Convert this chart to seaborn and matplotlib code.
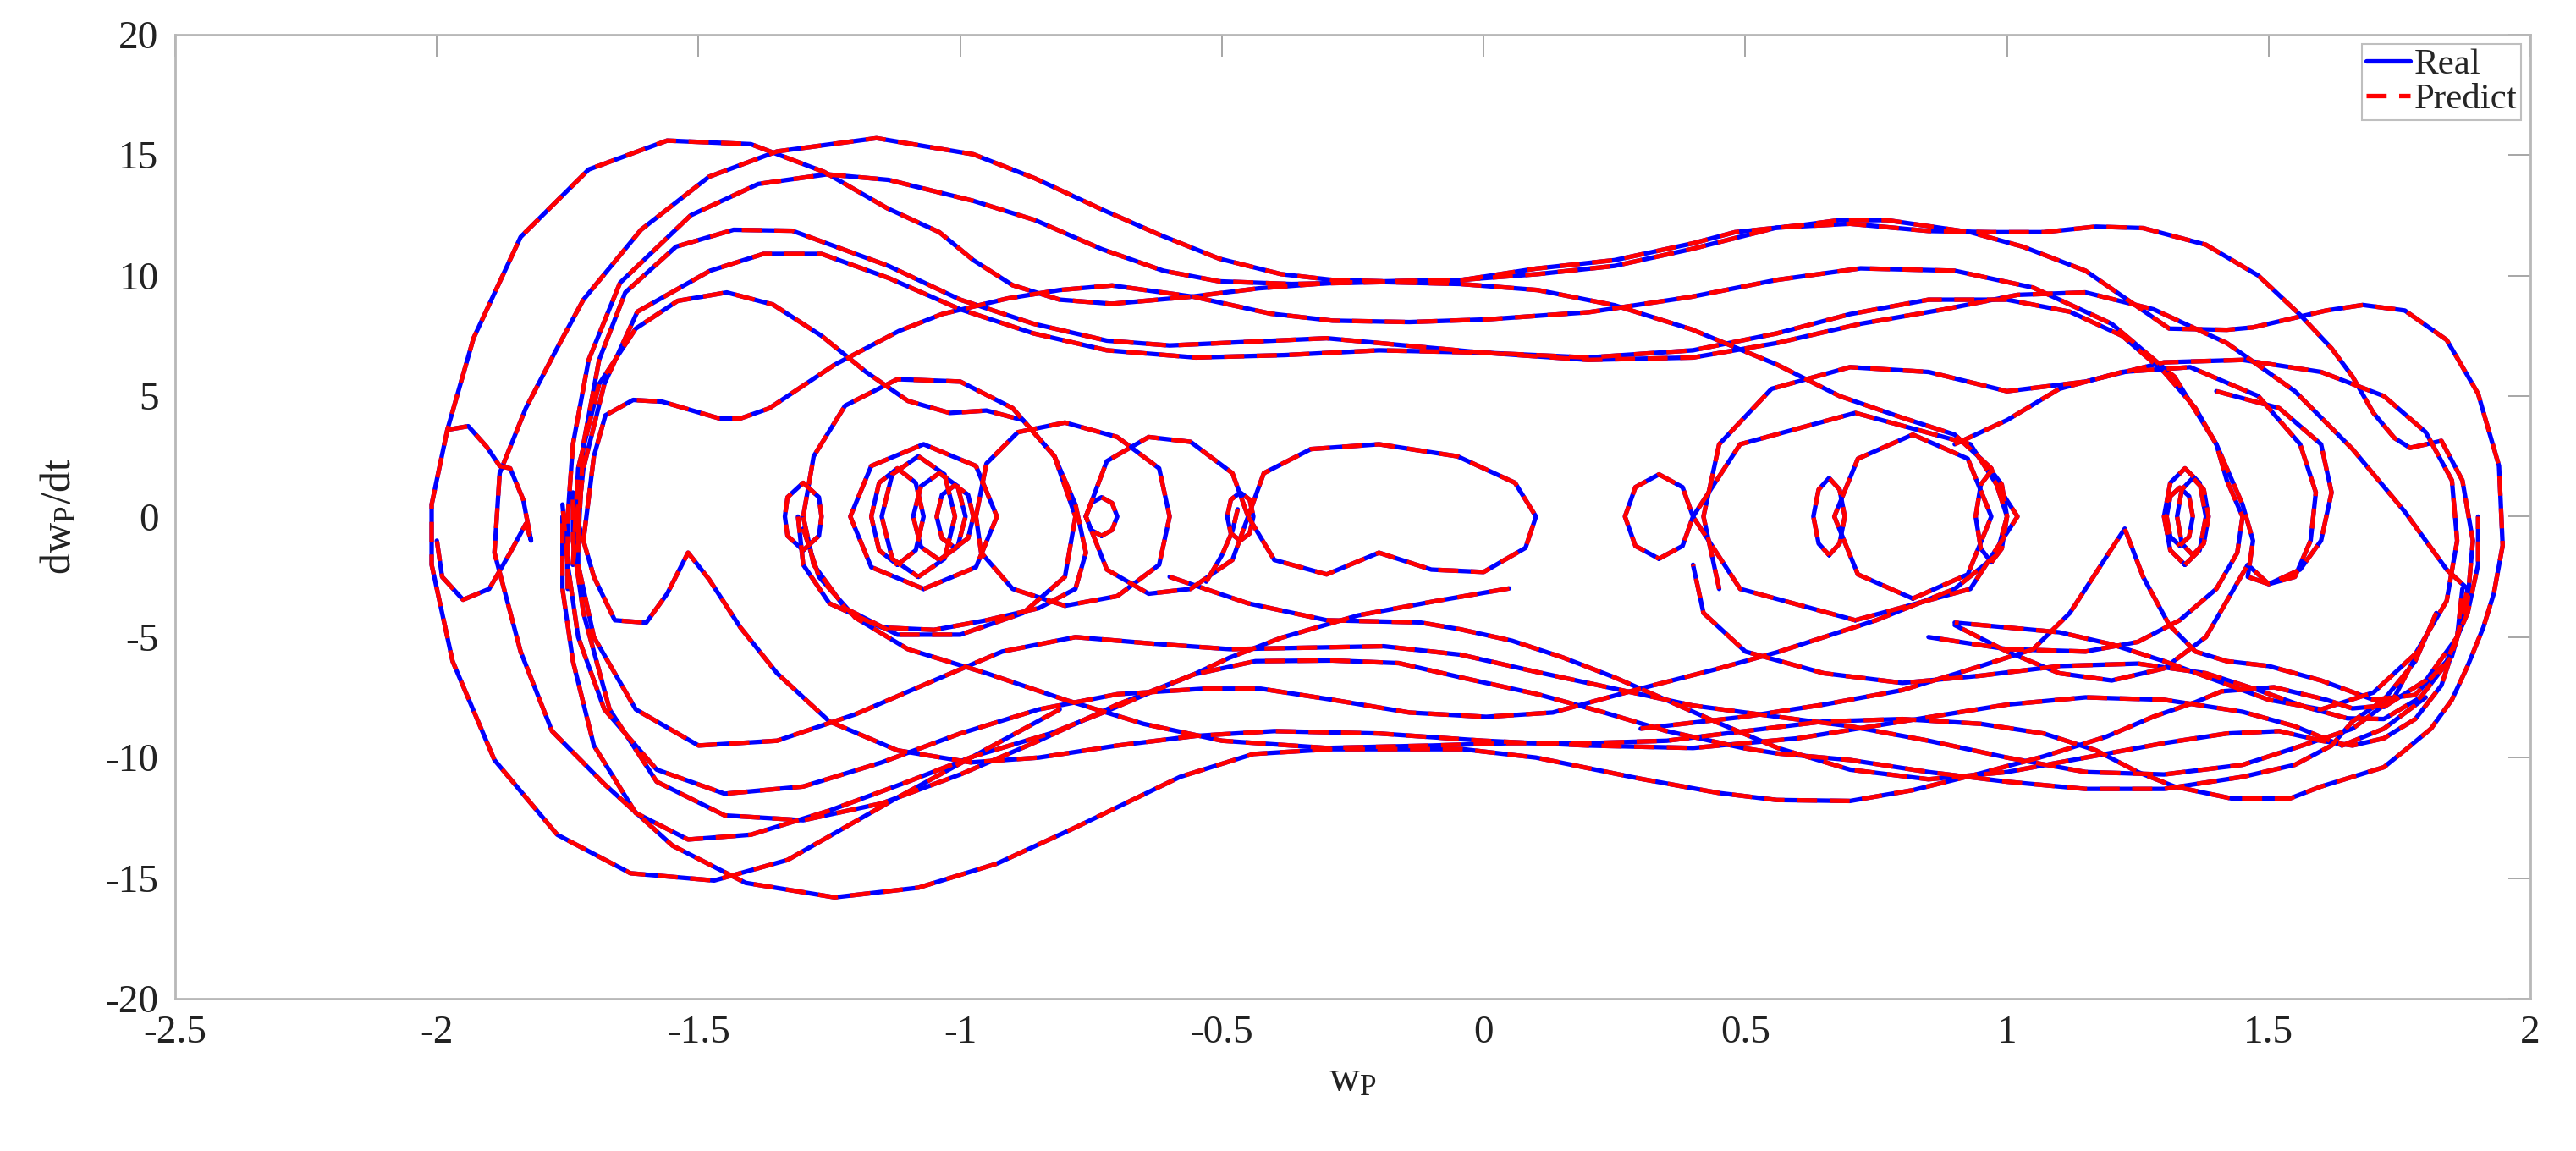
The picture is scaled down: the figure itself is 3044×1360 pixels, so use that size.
import numpy as np
import pandas as pd
import matplotlib
matplotlib.use("Agg")
import matplotlib.pyplot as plt
from matplotlib.lines import Line2D
import seaborn as sns

# ============================================= #
# DATA, traced off the phase portrait (w_P, dw_P/dt)
# ============================================= #

# big orbits that go round both wells
orbit1_wp = [-0.81, -1.12, -1.33, -1.47, -1.63, -1.77, -1.89, -1.97, -2.01, -2.01, -1.98, -1.93, -1.84, -1.71, -1.56, -1.40, -1.26, -1.14, -1.04, -0.975, -0.90, -0.81, -0.71, -0.56, -0.43, -0.29, -0.16, -0.04, 0.10, 0.25, 0.40, 0.48, 0.61, 0.68, 0.77, 0.93, 1.03, 1.15, 1.25, 1.31, 1.42, 1.47, 1.54, 1.61, 1.68, 1.76, 1.84, 1.90, 1.94, 1.947, 1.93, 1.91, 1.88, 1.85, 1.81, 1.76, 1.72, 1.66, 1.60, 1.54, 1.43, 1.32, 1.25, 1.17, 1.07, 0.95, 0.80, 0.65, 0.50, 0.35, 0.20, 0.05, -0.10, -0.30, -0.50, -0.65, -0.80, -0.95, -1.10, -1.20, -1.27, -1.30]
orbit1_dwp = [-8.0, -11.66, -14.25, -15.1, -14.8, -13.2, -10.1, -6.0, -2.0, 0.5, 3.6, 7.4, 11.6, 14.4, 15.6, 15.45, 14.3, 12.8, 11.8, 10.64, 9.6, 9.0, 8.83, 9.12, 9.47, 9.7, 9.76, 9.82, 10.29, 10.64, 11.34, 11.8, 12.1, 12.3, 12.3, 11.8, 11.2, 10.2, 8.7, 7.8, 7.75, 7.85, 8.2, 8.55, 8.78, 8.55, 7.33, 5.1, 2.1, -1.2, -3.2, -4.6, -6.2, -7.6, -8.8, -9.7, -10.4, -10.8, -11.2, -11.7, -11.7, -11.2, -10.6, -9.7, -9.0, -8.6, -8.4, -8.5, -8.9, -9.3, -9.4, -9.4, -9.5, -9.6, -9.3, -8.6, -7.6, -6.5, -5.5, -4.2, -2.5, -0.5]

orbit2_wp = [1.72, 1.66, 1.61, 1.51, 1.41, 1.36, 1.28, 1.19, 1.07, 0.95, 0.82, 0.70, 0.56, 0.45, 0.30, 0.10, -0.04, -0.29, -0.44, -0.58, -0.78, -0.93, -1.08, -1.24, -1.41, -1.55, -1.68, -1.78, -1.84, -1.89, -1.88, -1.83, -1.77, -1.72, -1.61, -1.48, -1.35, -1.16, -0.975, -0.857, -0.73, -0.62, -0.505, -0.387, -0.289, -0.191, -0.044, 0.103, 0.25, 0.397, 0.56, 0.70, 0.85, 0.97, 1.07, 1.17, 1.26, 1.38, 1.48, 1.56, 1.62, 1.66, 1.70, 1.74, 1.77, 1.83, 1.87, 1.89, 1.88, 1.85, 1.79, 1.72, 1.65, 1.57, 1.48, 1.38, 1.25, 1.10, 0.95, 0.80, 0.65, 0.50, 0.42, 0.40]
orbit2_dwp = [-7.84, -7.96, -7.6, -7.08, -7.25, -7.7, -8.3, -9.13, -9.95, -10.65, -11.35, -11.8, -11.76, -11.47, -10.88, -10.0, -9.65, -9.65, -9.85, -10.8, -12.9, -14.4, -15.4, -15.8, -15.2, -13.65, -11.1, -8.9, -5.6, -1.5, 1.8, 4.5, 7.0, 9.0, 11.9, 14.1, 15.15, 15.7, 15.03, 14.03, 12.75, 11.7, 10.7, 10.06, 9.82, 9.76, 9.82, 10.06, 10.4, 11.1, 11.99, 12.15, 11.85, 11.8, 11.8, 12.03, 11.97, 11.28, 10.0, 8.37, 6.98, 5.81, 4.3, 3.26, 2.85, 3.14, 1.5, -1.0, -3.5, -5.8, -7.5, -8.4, -8.37, -7.9, -7.2, -6.5, -6.1, -6.2, -6.6, -6.9, -6.5, -5.6, -4.0, -2.0]

# third top arc, drops into the right well and runs back under the bottom
orbit3_wp = [-1.75, -1.75, -1.74, -1.71, -1.65, -1.515, -1.386, -1.255, -1.137, -0.975, -0.857, -0.73, -0.612, -0.505, -0.367, -0.191, -0.044, 0.103, 0.25, 0.397, 0.56, 0.68, 0.80, 0.90, 0.97, 1.0, 0.98, 0.90, 0.75, 0.562, 0.446, 0.299, 0.201, 0.132, 0.005, -0.142, -0.289, -0.426, -0.534, -0.70, -0.85, -1.0, -1.15, -1.30, -1.45, -1.58, -1.68, -1.73, -1.75, -1.76]
orbit3_dwp = [-3.0, 0.0, 3.0, 6.5, 9.7, 12.5, 13.8, 14.2, 13.97, 13.1, 12.3, 11.1, 10.2, 9.76, 9.65, 9.73, 9.65, 9.4, 8.77, 7.77, 6.31, 5.0, 4.1, 3.4, 2.0, 0.0, -1.6, -3.0, -4.3, -5.62, -6.32, -7.14, -7.72, -8.13, -8.31, -8.13, -7.6, -7.14, -7.14, -7.37, -8.0, -9.0, -10.2, -11.2, -11.5, -10.5, -8.0, -5.0, -2.0, 0.5]

orbit4_wp = [-1.74, -1.72, -1.68, -1.617, -1.478, -1.376, -1.265, -1.137, -1.0, -0.86, -0.72, -0.55, -0.38, -0.2, 0.0, 0.2, 0.4, 0.56, 0.72, 0.88, 1.02, 1.15, 1.28, 1.42, 1.55, 1.66, 1.76, 1.84, 1.88, 1.86, 1.80, 1.72]
orbit4_dwp = [-2.0, 2.0, 5.5, 8.5, 10.2, 10.9, 10.9, 9.9, 8.6, 7.6, 6.9, 6.6, 6.7, 6.9, 6.8, 6.5, 6.6, 7.2, 8.0, 8.6, 9.2, 9.3, 8.6, 7.2, 5.2, 2.8, 0.2, -2.2, -3.0, -5.0, -6.8, -7.9]

orbit5_wp = [-1.73, -1.72, -1.69, -1.64, -1.543, -1.433, -1.321, -1.137, -1.0, -0.86, -0.72, -0.6, -0.45, -0.3, -0.15, 0.0, 0.2, 0.4, 0.56, 0.70, 0.85, 1.0, 1.12, 1.22, 1.30, 1.36, 1.40, 1.42, 1.45, 1.44, 1.40, 1.33, 1.25, 1.15, 1.0, 0.85]
orbit5_dwp = [-1.0, 3.0, 6.5, 9.3, 11.2, 11.9, 11.86, 10.4, 9.0, 8.0, 7.3, 7.1, 7.25, 7.4, 7.1, 6.8, 6.6, 6.9, 7.6, 8.4, 9.0, 9.0, 8.5, 7.5, 6.0, 4.5, 3.0, 1.5, 0.0, -1.5, -3.0, -4.3, -5.2, -5.6, -5.5, -5.0]

orbit6_wp = [-1.74, -1.73, -1.69, -1.62, -1.54, -1.446, -1.358, -1.265, -1.18, -1.10, -1.02, -0.95, -0.88, -0.82, -0.78, -0.76, -0.78, -0.85, -0.95, -1.05, -1.15, -1.25, -1.30, -1.31]
orbit6_dwp = [-2.0, 2.0, 5.5, 7.8, 8.95, 9.3, 8.8, 7.5, 6.0, 4.8, 4.3, 4.4, 4.0, 2.5, 0.5, -1.5, -3.0, -3.8, -4.3, -4.7, -4.6, -3.6, -2.0, 0.0]

orbit7_wp = [-1.72, -1.70, -1.678, -1.625, -1.57, -1.46, -1.42, -1.365, -1.24, -1.117, -1.035, -0.91, -0.81, -0.71, -0.554, -0.407, -0.289, -0.142, 0.005, 0.201, 0.397, 0.56, 0.72, 0.9, 1.05, 1.2, 1.32, 1.4, 1.45, 1.47, 1.46, 1.50, 1.56, 1.60, 1.62, 1.60, 1.52, 1.40]
orbit7_dwp = [-1.0, 2.5, 4.2, 4.84, 4.77, 4.07, 4.07, 4.49, 6.3, 7.7, 8.4, 9.05, 9.4, 9.59, 9.12, 8.42, 8.13, 8.07, 8.18, 8.48, 9.12, 9.82, 10.3, 10.2, 9.5, 8.0, 5.8, 3.0, 0.5, -1.0, -2.5, -2.8, -2.2, -1.0, 1.0, 3.0, 4.5, 5.2]

# runs along the lower half
low2_wp = [1.82, 1.78, 1.72, 1.66, 1.62, 1.55, 1.45, 1.3, 1.15, 1.0, 0.85, 0.70, 0.562, 0.495, 0.348, 0.221, 0.103, -0.044, -0.162, -0.289, -0.436, -0.554, -0.7, -0.85, -1.0, -1.15, -1.3, -1.45, -1.58, -1.67, -1.72, -1.74, -1.74]
low2_dwp = [-4.0, -6.0, -7.6, -8.5, -9.5, -10.3, -10.8, -11.3, -11.3, -11.0, -10.6, -10.1, -9.83, -9.6, -8.89, -8.07, -7.37, -6.67, -6.08, -5.97, -6.0, -6.55, -7.8, -9.3, -10.7, -11.9, -12.6, -12.4, -11.0, -8.0, -4.0, -1.0, 1.0]

low3_wp = [1.80, 1.74, 1.66, 1.55, 1.45, 1.30, 1.15, 1.0, 0.85, 0.70, 0.562, 0.4, 0.25, 0.1, -0.044, -0.191, -0.338, -0.485, -0.633, -0.78, -0.92, -1.05, -1.2, -1.35, -1.5, -1.62, -1.7, -1.73, -1.73]
low3_dwp = [-5.0, -7.5, -8.8, -9.6, -10.3, -10.7, -10.6, -10.0, -9.3, -8.7, -8.31, -7.84, -7.14, -6.44, -5.73, -5.38, -5.44, -5.5, -5.27, -5.0, -5.6, -6.8, -8.2, -9.3, -9.5, -8.0, -5.0, -2.0, 0.5]

low4_wp = [0.049, -0.093, -0.24, -0.387, -0.485, -0.554, -0.632, -0.72, -0.828, -0.975, -1.1, -1.25, -1.4, -1.52, -1.62, -1.7, -1.74, -1.76, -1.76]
low4_dwp = [-2.98, -3.51, -4.1, -5.03, -5.85, -6.55, -7.25, -8.07, -9.0, -9.95, -11.0, -12.2, -13.2, -13.4, -12.3, -9.5, -6.0, -3.0, 0.0]

low5_wp = [-0.6, -0.45, -0.3, -0.122, -0.044, 0.054, 0.152, 0.25, 0.348, 0.446, 0.562, 0.7, 0.85, 1.0, 1.15, 1.3, 1.42, 1.52, 1.6, 1.66, 1.72, 1.78, 1.83, 1.86, 1.87]
low5_dwp = [-2.5, -3.6, -4.3, -4.39, -4.68, -5.15, -5.85, -6.67, -7.6, -8.54, -9.6, -10.5, -10.9, -10.6, -10.0, -9.4, -9.0, -8.9, -9.3, -9.5, -9.2, -8.4, -7.0, -5.0, -3.0]

low6_wp = [-1.74, -1.70, -1.66, -1.60, -1.56, -1.52, -1.48, -1.42, -1.35, -1.25, -1.12, -0.98, -0.85, -0.7, -0.55, -0.4, -0.2, 0.0, 0.2, 0.4, 0.6, 0.8, 1.0, 1.15, 1.3, 1.45, 1.55, 1.64, 1.72, 1.80]
low6_dwp = [0.5, -2.5, -4.3, -4.4, -3.2, -1.5, -2.6, -4.6, -6.5, -8.5, -9.7, -10.2, -10.0, -9.5, -9.1, -8.9, -9.0, -9.3, -9.5, -9.6, -9.2, -8.5, -7.8, -7.5, -7.6, -8.1, -8.7, -9.5, -8.8, -7.5]

# loops inside the right well
right1_wp = [0.45, 0.42, 0.45, 0.55, 0.7, 0.85, 1.0, 1.15, 1.3, 1.45, 1.6, 1.72, 1.8, 1.85, 1.86, 1.84, 1.78, 1.7, 1.6, 1.5, 1.4, 1.3, 1.2, 1.1, 1.0, 0.9]
right1_dwp = [-3.0, 0.0, 3.0, 5.3, 6.2, 6.0, 5.2, 5.6, 6.4, 6.5, 6.0, 5.0, 3.5, 1.5, -1.0, -3.5, -5.7, -7.3, -8.0, -7.6, -6.8, -6.0, -5.3, -4.8, -4.6, -4.4]

right2_wp = [0.9, 1.0, 1.1, 1.22, 1.35, 1.48, 1.56, 1.59, 1.58, 1.55, 1.5, 1.46, 1.42, 1.38, 1.3, 1.2, 1.1, 1.0, 0.9]
right2_dwp = [3.0, 4.0, 5.3, 6.0, 6.2, 5.0, 3.0, 1.0, -1.0, -2.5, -2.8, -2.0, -3.5, -5.0, -6.3, -6.8, -6.5, -5.6, -4.5]

right3_wp = [0.3, 0.5, 0.65, 0.8, 0.95, 1.05, 1.12, 1.18, 1.225, 1.26, 1.31, 1.36, 1.42, 1.5, 1.6, 1.7, 1.78, 1.84, 1.88, 1.90, 1.90]
right3_dwp = [-8.8, -8.3, -7.8, -7.2, -6.2, -5.5, -4.0, -2.0, -0.5, -2.5, -4.5, -5.6, -6.0, -6.2, -6.8, -7.6, -7.4, -6.0, -4.0, -2.0, 0.0]

right4_wp = [0.71, 0.93, 1.02, 0.93, 0.71, 0.49, 0.40, 0.49, 0.71]
right4_dwp = [-4.3, -3.0, 0.0, 3.0, 4.3, 3.0, 0.0, -3.0, -4.3]

right5_wp = [0.82, 0.925, 0.97, 0.925, 0.82, 0.715, 0.67, 0.715, 0.82]
right5_dwp = [-3.4, -2.4, 0.0, 2.4, 3.4, 2.4, 0.0, -2.4, -3.4]

# loops inside the left well
left1_wp = [-1.98, -1.94, -1.905, -1.88, -1.86, -1.835, -1.82, -1.83, -1.86, -1.9, -1.95, -1.99, -2.0]
left1_dwp = [3.6, 3.75, 2.9, 2.1, 2.0, 0.7, -1.0, -0.3, -1.5, -3.0, -3.45, -2.5, -1.0]

left2_wp = [-1.3, -1.28, -1.22, -1.12, -1.0, -0.9, -0.82, -0.78, -0.8, -0.88, -1.0, -1.12, -1.22, -1.28, -1.3]
left2_dwp = [0.0, 2.5, 4.6, 5.7, 5.6, 4.5, 2.5, 0.0, -2.5, -4.0, -4.9, -4.9, -3.8, -2.0, 0.0]

left3_wp = [-0.97, -0.95, -0.89, -0.8, -0.7, -0.62, -0.6, -0.62, -0.7, -0.8, -0.9, -0.96, -0.97]
left3_dwp = [0.0, 2.2, 3.5, 3.9, 3.3, 2.0, 0.0, -2.0, -3.3, -3.7, -3.0, -1.5, 0.0]

left4_wp = [-0.76, -0.72, -0.64, -0.56, -0.48, -0.45, -0.48, -0.56, -0.64, -0.72, -0.76]
left4_dwp = [0.0, 2.3, 3.3, 3.1, 1.8, 0.0, -1.8, -3.0, -3.2, -2.2, 0.0]

left5_wp = [-1.07, -0.97, -0.93, -0.97, -1.07, -1.17, -1.21, -1.17, -1.07]
left5_dwp = [-3.0, -2.1, 0.0, 2.1, 3.0, 2.1, 0.0, -2.1, -3.0]

centre_wp = [-0.45, -0.42, -0.33, -0.2, -0.05, 0.06, 0.1, 0.08, 0.0, -0.1, -0.2, -0.3, -0.4, -0.45]
centre_dwp = [0.0, 1.8, 2.8, 3.0, 2.5, 1.4, 0.0, -1.3, -2.3, -2.2, -1.5, -2.4, -1.8, 0.0]

start_wp = [-0.53, -0.5, -0.48, -0.47]
start_dwp = [-2.7, -1.6, -0.6, 0.3]

# small ellipses / spirals near the well centres
ell1_wp = [-1.30, -1.27, -1.265, -1.27, -1.30, -1.33, -1.335, -1.33, -1.30]
ell1_dwp = [-1.4, -0.8, 0.0, 0.8, 1.4, 0.8, 0.0, -0.8, -1.4]
ell2_wp = [-1.12, -1.085, -1.07, -1.085, -1.12, -1.155, -1.17, -1.155, -1.12]
ell2_dwp = [-2.0, -1.4, 0.0, 1.4, 2.0, 1.4, 0.0, -1.4, -2.0]
ell3_wp = [-1.08, -1.03, -1.01, -1.03, -1.08, -1.13, -1.15, -1.13, -1.08]
ell3_dwp = [-2.5, -1.75, 0.0, 1.75, 2.5, 1.75, 0.0, -1.75, -2.5]
ell4_wp = [-1.04, -1.005, -0.99, -1.005, -1.04, -1.075, -1.09, -1.075, -1.04]
ell4_dwp = [-1.8, -1.26, 0.0, 1.26, 1.8, 1.26, 0.0, -1.26, -1.8]
ell5_wp = [-1.01, -0.985, -0.975, -0.985, -1.01, -1.035, -1.045, -1.035, -1.01]
ell5_dwp = [-1.3, -0.9, 0.0, 0.9, 1.3, 0.9, 0.0, -0.9, -1.3]
ell6_wp = [-0.73, -0.71, -0.70, -0.71, -0.73, -0.75, -0.76, -0.75, -0.73]
ell6_dwp = [-0.8, -0.56, 0.0, 0.56, 0.8, 0.56, 0.0, -0.56, -0.8]
ell7_wp = [-0.465, -0.447, -0.44, -0.447, -0.465, -0.483, -0.49, -0.483, -0.465]
ell7_dwp = [-1.0, -0.7, 0.0, 0.7, 1.0, 0.7, 0.0, -0.7, -1.0]
ell8_wp = [0.335, 0.38, 0.40, 0.38, 0.335, 0.29, 0.27, 0.29, 0.335]
ell8_dwp = [-1.75, -1.22, 0.0, 1.22, 1.75, 1.22, 0.0, -1.22, -1.75]
ell9_wp = [0.66, 0.68, 0.69, 0.68, 0.66, 0.64, 0.63, 0.64, 0.66]
ell9_dwp = [-1.6, -1.12, 0.0, 1.12, 1.6, 1.12, 0.0, -1.12, -1.6]
ell10_wp = [0.97, 0.99, 1.0, 0.99, 0.97, 0.95, 0.94, 0.95, 0.97]
ell10_dwp = [-1.9, -1.33, 0.0, 1.33, 1.9, 1.33, 0.0, -1.33, -1.9]
ell11_wp = [1.34, 1.368, 1.38, 1.368, 1.34, 1.312, 1.30, 1.312, 1.34]
ell11_dwp = [-2.0, -1.4, 0.0, 1.4, 2.0, 1.4, 0.0, -1.4, -2.0]
ell12_wp = [1.355, 1.376, 1.385, 1.376, 1.355, 1.334, 1.325, 1.334, 1.355]
ell12_dwp = [-1.6, -1.12, 0.0, 1.12, 1.6, 1.12, 0.0, -1.12, -1.6]
ell13_wp = [1.33, 1.348, 1.355, 1.348, 1.33, 1.312, 1.305, 1.312, 1.33]
ell13_dwp = [-1.2, -0.84, 0.0, 0.84, 1.2, 0.84, 0.0, -0.84, -1.2]

pieces = [
    (orbit1_wp, orbit1_dwp), (orbit2_wp, orbit2_dwp), (orbit3_wp, orbit3_dwp),
    (orbit4_wp, orbit4_dwp), (orbit5_wp, orbit5_dwp), (orbit6_wp, orbit6_dwp),
    (orbit7_wp, orbit7_dwp),
    (low2_wp, low2_dwp), (low3_wp, low3_dwp),
    (low4_wp, low4_dwp), (low5_wp, low5_dwp), (low6_wp, low6_dwp),
    (right1_wp, right1_dwp), (right2_wp, right2_dwp), (right3_wp, right3_dwp),
    (right4_wp, right4_dwp), (right5_wp, right5_dwp),
    (left1_wp, left1_dwp), (left2_wp, left2_dwp), (left3_wp, left3_dwp),
    (left4_wp, left4_dwp), (left5_wp, left5_dwp),
    (centre_wp, centre_dwp), (start_wp, start_dwp),
    (ell1_wp, ell1_dwp), (ell2_wp, ell2_dwp), (ell3_wp, ell3_dwp), (ell4_wp, ell4_dwp),
    (ell5_wp, ell5_dwp), (ell6_wp, ell6_dwp), (ell7_wp, ell7_dwp), (ell8_wp, ell8_dwp),
    (ell9_wp, ell9_dwp), (ell10_wp, ell10_dwp), (ell11_wp, ell11_dwp),
    (ell12_wp, ell12_dwp), (ell13_wp, ell13_dwp),
]

# long table, the prediction follows the real trace
rows = []
for series in ['Real', 'Predict']:
    for seg, (xs, ys) in enumerate(pieces):
        for xv, yv in zip(xs, ys):
            rows.append({'series': series, 'seg': seg, 'wp': xv, 'dwp': yv})
df = pd.DataFrame(rows)

# ============================================= #
# PLOT
# ============================================= #
sns.set_theme(style="white")
plt.rcParams['font.family'] = ['Liberation Serif', 'DejaVu Serif']
plt.rcParams['mathtext.fontset'] = 'stix'

fig = plt.figure(figsize=(30.44, 13.6), dpi=100)
ax = fig.add_axes([0.068, 0.1324, 0.9143, 0.8376])

colors = {'Real': '#0000ff', 'Predict': '#ff0000'}
lw = 3.8
dash = (4.5, 2.8)

# real trace first, dashed prediction drawn on top of it
sns.lineplot(data=df[df.series == 'Real'], x='wp', y='dwp', units='seg',
             estimator=None, sort=False, color=colors['Real'], linewidth=lw,
             legend=False, ax=ax)
sns.lineplot(data=df[df.series == 'Predict'], x='wp', y='dwp', units='seg',
             estimator=None, sort=False, color=colors['Predict'], linewidth=lw,
             linestyle=(0, dash), legend=False, ax=ax)

ax.set(xlim=[-2.5, 2], ylim=[-20, 20])
ax.set_xticks(np.arange(-2.5, 2.01, 0.5))
ax.set_yticks(np.arange(-20, 21, 5))
ax.xaxis.set_major_formatter(matplotlib.ticker.FuncFormatter(lambda v, p: '%g' % v))
ax.yaxis.set_major_formatter(matplotlib.ticker.FuncFormatter(lambda v, p: '%g' % v))
ax.tick_params(direction='in', top=True, right=True, length=19, width=1.4,
               color='#a6a6a6', labelsize=34, pad=14, labelcolor='#222222')
for sp in ax.spines.values():
    sp.set_color('#b8b8b8')
    sp.set_linewidth(2.0)

ax.set_xlabel(r'w$_{\mathregular{P}}$', fontsize=36, labelpad=8, color='#222222')
ax.set_ylabel(r'dw$_{\mathregular{P}}$/dt', fontsize=36, labelpad=22, color='#222222')

handles = [Line2D([], [], color=colors['Real'], lw=lw),
           Line2D([], [], color=colors['Predict'], lw=lw, linestyle=(0, dash))]
leg = ax.legend(handles, ['Real', 'Predict'], loc='upper right', fontsize=31,
                frameon=True, fancybox=False, handlelength=1.2, handletextpad=0.1,
                borderpad=0.12, labelspacing=0.05, borderaxespad=0.25)
leg.get_frame().set_edgecolor('#b0b0b0')
leg.get_frame().set_linewidth(1.5)

fig.savefig('out.png', dpi=100)
